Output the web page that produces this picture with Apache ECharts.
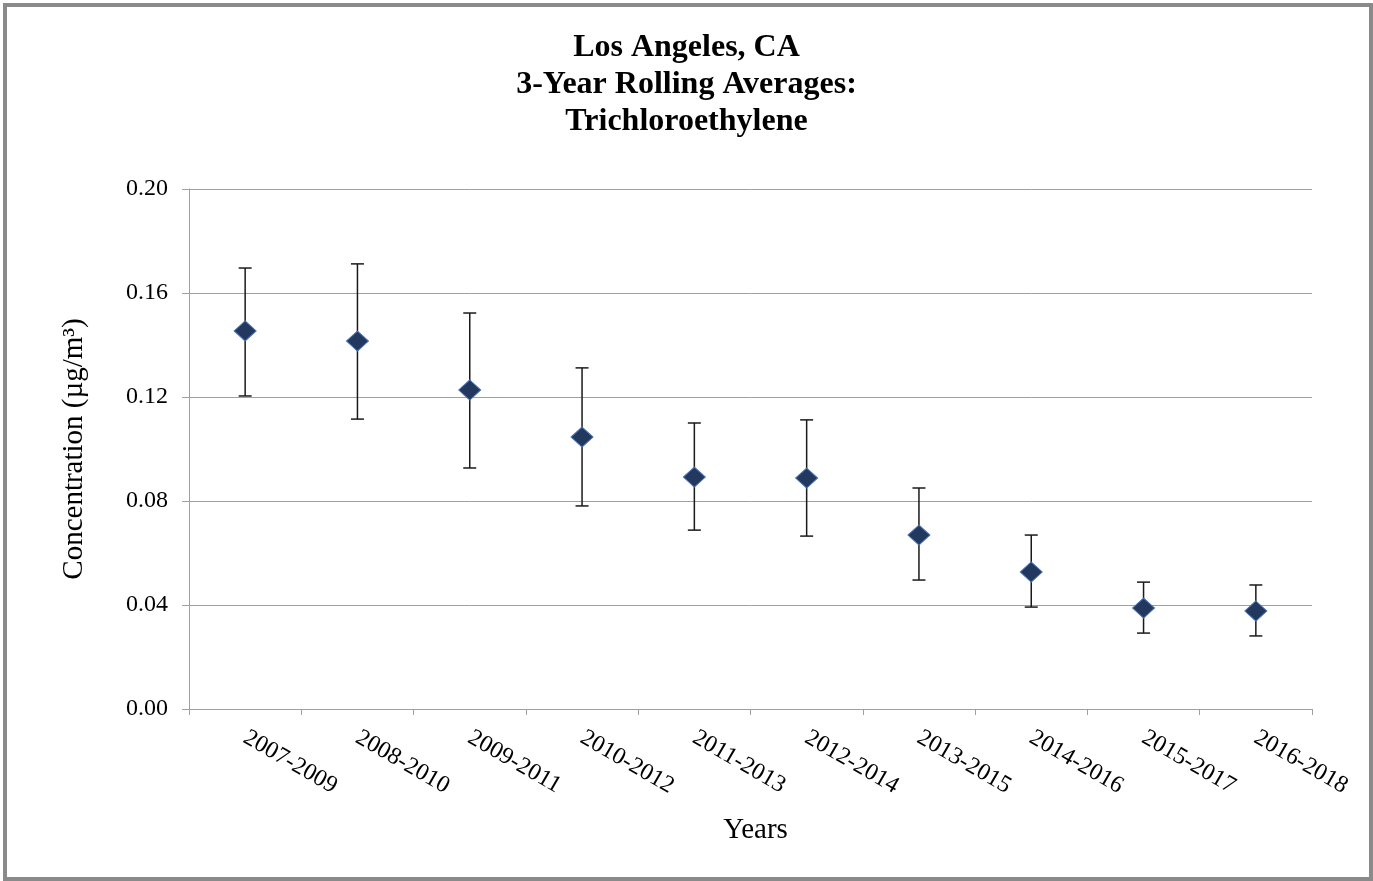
<!DOCTYPE html>
<html>
<head>
<meta charset="utf-8">
<script src="https://cdn.jsdelivr.net/npm/echarts@6/dist/echarts.min.js"></script>
<style>
html,body{margin:0;padding:0;background:#fff;}
#frame{position:absolute;left:3px;top:3px;width:1370px;height:878px;box-sizing:border-box;border:4px solid #8a8a8a;background:#fff;}
#chart{position:absolute;left:0;top:0;width:1373px;height:881px;}
</style>
</head>
<body>
<div id="frame"></div>
<div id="chart"></div>
<script>
const categories = ['2007-2009','2008-2010','2009-2011','2010-2012','2011-2013','2012-2014','2013-2015','2014-2016','2015-2017','2016-2018'];
const means = [0.1454, 0.1415, 0.1227, 0.1046, 0.0892, 0.0888, 0.0669, 0.0527, 0.0388, 0.0377];
const lowers = [0.1204, 0.1115, 0.0927, 0.0781, 0.0688, 0.0665, 0.0496, 0.0392, 0.0292, 0.0281];
const uppers = [0.1696, 0.1712, 0.1523, 0.1312, 0.1100, 0.1112, 0.0850, 0.0669, 0.0488, 0.0477];
const yTicks = [0, 0.04, 0.08, 0.12, 0.16, 0.20];

const errData = categories.map((c, i) => [i, lowers[i], uppers[i]]);
const serif = '"Liberation Serif", "DejaVu Serif", serif';

const chart = echarts.init(document.getElementById('chart'), null, {renderer: 'canvas'});
chart.setOption({
  backgroundColor: 'transparent',
  animation: false,
  title: {
    text: 'Los Angeles, CA\n3-Year Rolling Averages:\nTrichloroethylene',
    left: 'center',
    top: 24,
    textStyle: {fontFamily: serif, fontWeight: 'bold', fontSize: 32, lineHeight: 37, color: '#000'}
  },
  grid: {left: 189, right: 61, top: 189, bottom: 172, containLabel: false},
  xAxis: {
    type: 'category',
    data: categories,
    boundaryGap: true,
    name: 'Years',
    nameLocation: 'middle',
    nameGap: 107,
    nameTextStyle: {fontFamily: serif, fontSize: 29, color: '#000', padding: [0, 0, 0, 10]},
    axisLine: {lineStyle: {color: '#a0a0a0', width: 1}},
    axisTick: {show: true, alignWithLabel: false, length: 6, lineStyle: {color: '#a0a0a0'}},
    axisLabel: {rotate: -30, margin: 27, fontFamily: serif, fontSize: 24, color: '#000', interval: 0},
    splitLine: {show: false}
  },
  yAxis: {
    type: 'value',
    min: 0,
    max: 0.2,
    interval: 0.04,
    name: 'Concentration (µg/m³)',
    nameLocation: 'middle',
    nameGap: 100,
    nameRotate: 90,
    nameTextStyle: {fontFamily: serif, fontSize: 29, color: '#000'},
    axisLine: {show: true, lineStyle: {color: '#a0a0a0', width: 1}},
    axisTick: {show: true, inside: false, length: 7, lineStyle: {color: '#a0a0a0'}},
    axisLabel: {margin: 21, fontFamily: serif, fontSize: 24, color: '#000', formatter: v => v.toFixed(2)},
    splitLine: {show: true, lineStyle: {color: '#a0a0a0', width: 1}}
  },
  series: [
    {
      type: 'custom',
      name: 'error',
      data: errData,
      z: 2,
      renderItem: function (params, api) {
        const x = api.value(0);
        const lo = api.coord([x, api.value(1)]);
        const hi = api.coord([x, api.value(2)]);
        const hw = 6.5;
        const style = {stroke: '#1a1a1a', lineWidth: 1.5, fill: null};
        return {
          type: 'group',
          children: [
            {type: 'line', shape: {x1: lo[0], y1: lo[1], x2: hi[0], y2: hi[1]}, style: style},
            {type: 'line', shape: {x1: lo[0]-hw, y1: lo[1], x2: lo[0]+hw, y2: lo[1]}, style: style},
            {type: 'line', shape: {x1: hi[0]-hw, y1: hi[1], x2: hi[0]+hw, y2: hi[1]}, style: style}
          ]
        };
      }
    },
    {
      type: 'scatter',
      name: 'mean',
      data: means,
      z: 3,
      symbol: 'diamond',
      symbolSize: [22, 20],
      itemStyle: {color: '#22385e', borderColor: '#4a72b0', borderWidth: 1, opacity: 1}
    }
  ]
});
</script>
</body>
</html>
